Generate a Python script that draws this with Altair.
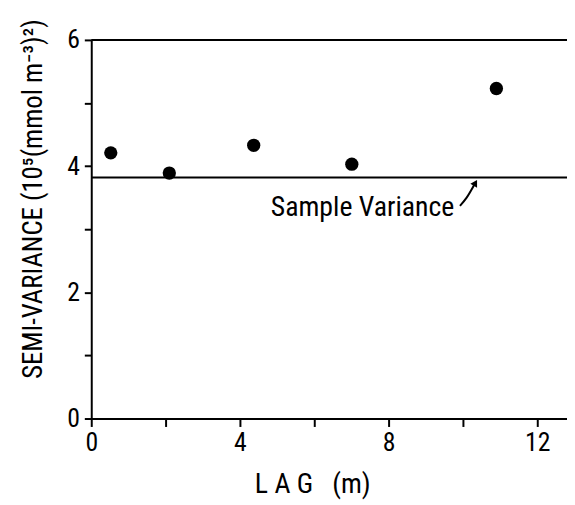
import altair as alt
import pandas as pd

# data
lag = [0.525, 2.10, 4.37, 7.01, 10.90]
semivar = [4.21, 3.89, 4.33, 4.03, 5.23]
sample_variance = [3.82]
y_domain = [0, 6]
x_domain = [0, 12.8]
y_ticks = [0, 1, 2, 3, 4, 5, 6]
x_ticks = [0, 2, 4, 6, 8, 10, 12]
label_text = ["Sample Variance"]
label_pos = [(7.3, 3.21)]
arrow_x = [9.92, 10.1, 10.32]
arrow_y = [3.37, 3.50, 3.72]

FONT = "Roboto Condensed, Liberation Sans Narrow, DejaVu Sans Condensed, DejaVu Sans, sans-serif"
NB = "\u00a0"

pts = pd.DataFrame({"lag": lag, "sv": semivar})
sv_df = pd.DataFrame({"y": sample_variance})
top_df = pd.DataFrame({"y": [y_domain[1]]})
lab_df = pd.DataFrame({"x": [p[0] for p in label_pos], "y": [p[1] for p in label_pos], "t": label_text})
arr_df = pd.DataFrame({"x": arrow_x, "y": arrow_y, "o": list(range(len(arrow_x)))})

xscale = alt.Scale(domain=x_domain, nice=False, zero=False)
yscale = alt.Scale(domain=y_domain, nice=False)

xaxis = alt.Axis(
    values=x_ticks, format="d",
    labelExpr="datum.value % 4 == 0 ? datum.label : ''",
    title=f"L{NB}A{NB}G{NB}{NB}{NB}(m)",
    titleX=223, titleY=75, titleBaseline="alphabetic", titleAlign="center",
    titleFontSize=28, titleFontWeight="normal", titleFont=FONT, titleColor="black",
    labelFont=FONT, labelFontSize=26, labelColor="black", labelPadding=3,
    tickSize=8, tickWidth=2, tickColor="black",
    domainColor="black", domainWidth=2, grid=False, labelFlush=False,
)
yaxis = alt.Axis(
    values=y_ticks, format="d",
    labelExpr="datum.value % 2 == 0 ? datum.label : ''",
    title="SEMI-VARIANCE (10⁵(mmol m⁻³)²)",
    titleAngle=270, titleX=-50, titleY=160, titleBaseline="alphabetic", titleAlign="center",
    titleFontSize=27, titleFontWeight="normal", titleFont=FONT, titleColor="black",
    labelFont=FONT, labelFontSize=26, labelColor="black", labelPadding=5,
    tickSize=7, tickWidth=2, tickColor="black",
    domainColor="black", domainWidth=2, grid=False, labelFlush=False,
)

points = alt.Chart(pts).mark_circle(size=180, color="black", opacity=1).encode(
    x=alt.X("lag:Q", scale=xscale, axis=xaxis),
    y=alt.Y("sv:Q", scale=yscale, axis=yaxis),
)
sv_rule = alt.Chart(sv_df).mark_rule(color="black", strokeWidth=2).encode(y=alt.Y("y:Q", scale=yscale))
top_rule = alt.Chart(top_df).mark_rule(color="black", strokeWidth=2).encode(y=alt.Y("y:Q", scale=yscale))
label = alt.Chart(lab_df).mark_text(font=FONT, fontSize=28, align="center", baseline="alphabetic", color="black").encode(
    x=alt.X("x:Q", scale=xscale), y=alt.Y("y:Q", scale=yscale), text="t:N"
)
arrow = alt.Chart(arr_df).mark_line(color="black", strokeWidth=2, interpolate="monotone").encode(
    x=alt.X("x:Q", scale=xscale), y=alt.Y("y:Q", scale=yscale), order="o:Q"
)
head = alt.Chart(arr_df.tail(1)).mark_point(shape="triangle", filled=True, color="black", size=60, angle=30, opacity=1).encode(
    x=alt.X("x:Q", scale=xscale), y=alt.Y("y:Q", scale=yscale)
)

chart = alt.layer(top_rule, sv_rule, points, label, arrow, head).properties(
    width=480, height=382,
    autosize=alt.AutoSizeParams(type="none"),
    padding={"left": 84, "top": 30, "right": 0, "bottom": 80},
    background="white",
).configure_view(stroke=None)

chart.save("out.html", embed_options={"renderer": "svg", "actions": False})
